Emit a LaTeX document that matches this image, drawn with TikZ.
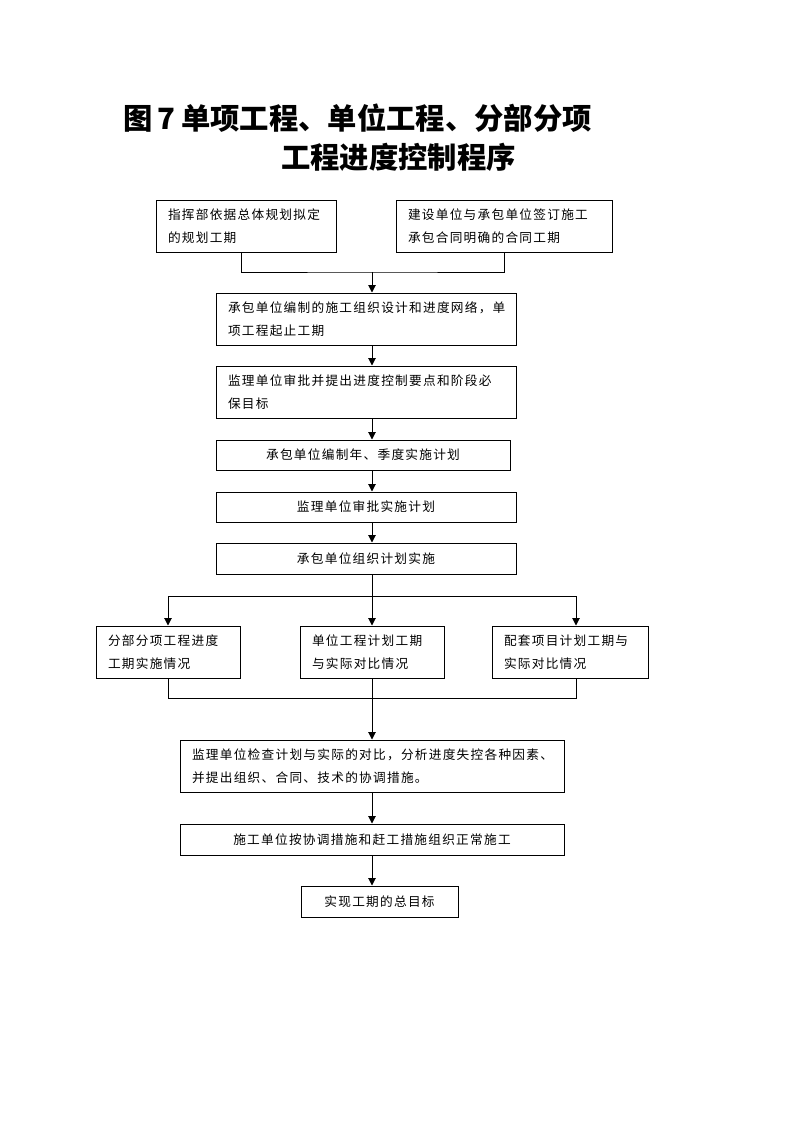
\documentclass[tikz,border=0pt]{standalone}
\usepackage{fontspec}
\usepackage{tikz}
\usetikzlibrary{positioning,arrows.meta,calc}
\newfontfamily\boxfont{Noto Sans CJK SC}[LetterSpace=10]
\newfontfamily\titlefont{Noto Sans CJK SC}

\tikzset{
  box/.style={draw, line width=0.75pt, inner xsep=9pt, inner ysep=0pt,
    font=\boxfont\fontsize{9.5pt}{17pt}\selectfont},
  lbox/.style={box, align=left},
  cbox/.style={box, align=center},
  heading/.style={inner sep=0pt, font=\titlefont\bfseries\fontsize{22pt}{26pt}\selectfont},
  link/.style={line width=0.75pt},
  arr/.style={link, -{Triangle[length=5.5pt,width=5.5pt]}}
}

\begin{document}
\begin{tikzpicture}[x=0.75pt,y=-0.75pt]
\useasboundingbox (0,0) rectangle (793,1122);

% Title
\node[heading, anchor=base west] (t1) at (123,129) {图\hspace{4pt}7\hspace{4pt}单项工程、单位工程、分部分项};
\node[heading, anchor=base west] (t2) at (281,168) {工程进度控制程序};

% Boxes
\node[lbox, text width=117pt, minimum height=39pt] (b1) at (246,226) {指挥部依据总体规划拟定\\的规划工期};
\node[lbox, text width=144pt, minimum height=39pt] (b2) at (504,226) {建设单位与承包单位签订施工\\承包合同明确的合同工期};
\node[lbox, text width=207pt, minimum height=39pt] (b3) at (366,319) {承包单位编制的施工组织设计和进度网络，单\\项工程起止工期};
\node[lbox, text width=207pt, minimum height=39pt] (b4) at (366,392) {监理单位审批并提出进度控制要点和阶段必\\保目标};
\node[cbox, text width=202.5pt, minimum height=22.5pt] (b5) at (363,455) {承包单位编制年、季度实施计划};
\node[cbox, text width=207pt, minimum height=22.5pt] (b6) at (366,507) {监理单位审批实施计划};
\node[cbox, text width=207pt, minimum height=23.25pt] (b7) at (366,558.5) {承包单位组织计划实施};
\node[lbox, text width=90pt, minimum height=39pt] (b8) at (168,652) {分部分项工程进度\\工期实施情况};
\node[lbox, text width=90pt, minimum height=39pt] (b9) at (372,652) {单位工程计划工期\\与实际对比情况};
\node[lbox, text width=99pt, minimum height=39pt] (b10) at (570,652) {配套项目计划工期与\\实际对比情况};
\node[lbox, text width=270pt, minimum height=39pt] (b11) at (372,766) {监理单位检查计划与实际的对比，分析进度失控各种因素、\\并提出组织、合同、技术的协调措施。};
\node[cbox, text width=270pt, minimum height=23.25pt] (b12) at (372,839.5) {施工单位按协调措施和赶工措施组织正常施工};
\node[cbox, text width=99.75pt, minimum height=23.25pt] (b13) at (379.5,901.5) {实现工期的总目标};

% Connectors
\coordinate (j1) at (372,272);
\coordinate (jl) at (241,272);
\draw[link] (jl |- b1.south) -- (jl) -- (j1) -| (b2.south);
\draw[arr] (j1) -- (j1 |- b3.north);
\foreach \a/\b in {b3/b4,b4/b5,b5/b6,b6/b7}
    \draw[arr] (j1 |- \a.south) -- (j1 |- \b.north);

% Split into three
\coordinate (s1) at (372,596);
\coordinate (sl) at (168,596);
\coordinate (sr) at (576,596);
\draw[link] (j1 |- b7.south) -- (s1);
\draw[link] (sl) -- (sr);
\draw[arr] (sl) -- (b8.north);
\draw[arr] (s1) -- (b9.north);
\draw[arr] (sr) -- (sr |- b10.north);

% Merge
\coordinate (m1) at (372,698);
\draw[link] (b8.south) |- (m1);
\draw[link] (sr |- b10.south) |- (m1);
\draw[arr] (b9.south) -- (b11.north);
\draw[arr] (b11) -- (b12);
\draw[arr] (b12.south) -- (b12.south |- b13.north);
\end{tikzpicture}
\end{document}
